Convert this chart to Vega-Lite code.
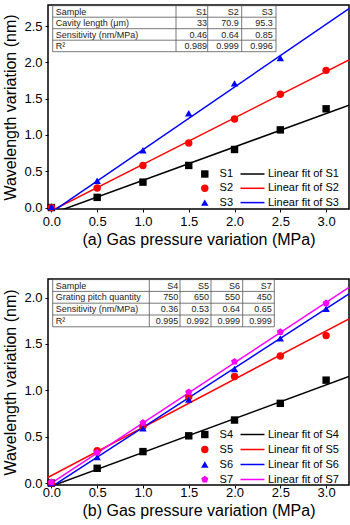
{
  "$schema": "https://vega.github.io/schema/vega-lite/v6.json",
  "padding": {"left": 2, "top": 4, "right": 1, "bottom": 0},
  "spacing": 30,
  "config": {
    "font": "Liberation Sans",
    "view": {"stroke": "black", "strokeWidth": 1.5},
    "axis": {"domain": false, "grid": false, "tickColor": "black", "tickSize": 3, "tickWidth": 1,
      "labelFontSize": 13, "labelColor": "black", "labelFont": "Liberation Sans", "labelPadding": 3,
      "titleFontSize": 16, "titleFontWeight": "normal", "titleColor": "black", "titleFont": "Liberation Sans"},
    "legend": {"labelFont": "Liberation Sans", "labelFontSize": 11, "labelColor": "black", "padding": 0}
  },
  "resolve": {"scale": {"color": "independent", "shape": "independent", "stroke": "independent"}},
  "datasets": {
    "a_pts": [
      {"sample": "S1", "x": 0, "y": 0}, {"sample": "S1", "x": 0.5, "y": 0.14}, {"sample": "S1", "x": 1.0, "y": 0.35},
      {"sample": "S1", "x": 1.5, "y": 0.58}, {"sample": "S1", "x": 2.0, "y": 0.80}, {"sample": "S1", "x": 2.5, "y": 1.07},
      {"sample": "S1", "x": 3.0, "y": 1.36},
      {"sample": "S2", "x": 0, "y": 0}, {"sample": "S2", "x": 0.5, "y": 0.27}, {"sample": "S2", "x": 1.0, "y": 0.58},
      {"sample": "S2", "x": 1.5, "y": 0.89}, {"sample": "S2", "x": 2.0, "y": 1.22}, {"sample": "S2", "x": 2.5, "y": 1.56},
      {"sample": "S2", "x": 3.0, "y": 1.89},
      {"sample": "S3", "x": 0, "y": 0.01}, {"sample": "S3", "x": 0.5, "y": 0.37}, {"sample": "S3", "x": 1.0, "y": 0.79},
      {"sample": "S3", "x": 1.5, "y": 1.30}, {"sample": "S3", "x": 2.0, "y": 1.71}, {"sample": "S3", "x": 2.5, "y": 2.06}
    ],
    "a_fit": [
      {"fit": "Linear fit of S1", "x": 0, "y": -0.085}, {"fit": "Linear fit of S1", "x": 3.25, "y": 1.41},
      {"fit": "Linear fit of S2", "x": 0, "y": -0.045}, {"fit": "Linear fit of S2", "x": 3.25, "y": 2.035},
      {"fit": "Linear fit of S3", "x": 0, "y": -0.066}, {"fit": "Linear fit of S3", "x": 3.25, "y": 2.74}
    ],
    "a_tab": [
      {"r": 0, "c": 0, "t": "Sample"}, {"r": 0, "c": 1, "t": "S1"}, {"r": 0, "c": 2, "t": "S2"}, {"r": 0, "c": 3, "t": "S3"},
      {"r": 1, "c": 0, "t": "Cavity length (μm)"}, {"r": 1, "c": 1, "t": "33"}, {"r": 1, "c": 2, "t": "70.9"}, {"r": 1, "c": 3, "t": "95.3"},
      {"r": 2, "c": 0, "t": "Sensitivity (nm/MPa)"}, {"r": 2, "c": 1, "t": "0.46"}, {"r": 2, "c": 2, "t": "0.64"}, {"r": 2, "c": 3, "t": "0.85"},
      {"r": 3, "c": 0, "t": "R²"}, {"r": 3, "c": 1, "t": "0.989"}, {"r": 3, "c": 2, "t": "0.999"}, {"r": 3, "c": 3, "t": "0.996"}
    ],
    "b_pts": [
      {"sample": "S4", "x": 0, "y": 0}, {"sample": "S4", "x": 0.5, "y": 0.16}, {"sample": "S4", "x": 1.0, "y": 0.34},
      {"sample": "S4", "x": 1.5, "y": 0.51}, {"sample": "S4", "x": 2.0, "y": 0.68}, {"sample": "S4", "x": 2.5, "y": 0.86},
      {"sample": "S4", "x": 3.0, "y": 1.11},
      {"sample": "S5", "x": 0, "y": 0}, {"sample": "S5", "x": 0.5, "y": 0.35}, {"sample": "S5", "x": 1.0, "y": 0.61},
      {"sample": "S5", "x": 1.5, "y": 0.93}, {"sample": "S5", "x": 2.0, "y": 1.15}, {"sample": "S5", "x": 2.5, "y": 1.37},
      {"sample": "S5", "x": 3.0, "y": 1.59},
      {"sample": "S6", "x": 0, "y": 0}, {"sample": "S6", "x": 0.5, "y": 0.28}, {"sample": "S6", "x": 1.0, "y": 0.59},
      {"sample": "S6", "x": 1.5, "y": 0.90}, {"sample": "S6", "x": 2.0, "y": 1.23}, {"sample": "S6", "x": 2.5, "y": 1.56},
      {"sample": "S6", "x": 3.0, "y": 1.88},
      {"sample": "S7", "x": 0, "y": 0.01}, {"sample": "S7", "x": 0.5, "y": 0.33}, {"sample": "S7", "x": 1.0, "y": 0.65},
      {"sample": "S7", "x": 1.5, "y": 0.98}, {"sample": "S7", "x": 2.0, "y": 1.31}, {"sample": "S7", "x": 2.5, "y": 1.63},
      {"sample": "S7", "x": 3.0, "y": 1.94}
    ],
    "b_fit": [
      {"fit": "Linear fit of S4", "x": 0, "y": -0.033}, {"fit": "Linear fit of S4", "x": 3.25, "y": 1.15},
      {"fit": "Linear fit of S5", "x": -0.04, "y": 0.06}, {"fit": "Linear fit of S5", "x": 3.25, "y": 1.77},
      {"fit": "Linear fit of S6", "x": 0, "y": -0.04}, {"fit": "Linear fit of S6", "x": 3.25, "y": 2.04},
      {"fit": "Linear fit of S7", "x": 0, "y": 0}, {"fit": "Linear fit of S7", "x": 3.25, "y": 2.11}
    ],
    "b_tab": [
      {"r": 0, "c": 0, "t": "Sample"}, {"r": 0, "c": 1, "t": "S4"}, {"r": 0, "c": 2, "t": "S5"}, {"r": 0, "c": 3, "t": "S6"}, {"r": 0, "c": 4, "t": "S7"},
      {"r": 1, "c": 0, "t": "Grating pitch quantity"}, {"r": 1, "c": 1, "t": "750"}, {"r": 1, "c": 2, "t": "650"}, {"r": 1, "c": 3, "t": "550"}, {"r": 1, "c": 4, "t": "450"},
      {"r": 2, "c": 0, "t": "Sensitivity (nm/MPa)"}, {"r": 2, "c": 1, "t": "0.36"}, {"r": 2, "c": 2, "t": "0.53"}, {"r": 2, "c": 3, "t": "0.64"}, {"r": 2, "c": 4, "t": "0.65"},
      {"r": 3, "c": 0, "t": "R²"}, {"r": 3, "c": 1, "t": "0.995"}, {"r": 3, "c": 2, "t": "0.992"}, {"r": 3, "c": 3, "t": "0.999"}, {"r": 3, "c": 4, "t": "0.999"}
    ],
    "edges": [{"e": 0}, {"e": 1}, {"e": 2}, {"e": 3}, {"e": 4}, {"e": 5}]
  },
  "vconcat": [
    {
      "width": 301, "height": 204,
      "layer": [
        {
          "layer": [
            {
              "data": {"name": "a_fit"},
              "mark": {"type": "line", "clip": true, "strokeWidth": 1.5},
              "encoding": {
                "x": {"field": "x", "type": "quantitative",
                  "scale": {"domain": [-0.037, 3.25], "nice": false, "zero": false},
                  "axis": {"values": [0, 0.25, 0.5, 0.75, 1, 1.25, 1.5, 1.75, 2, 2.25, 2.5, 2.75, 3],
                    "labelExpr": "datum.value % 0.5 === 0 ? format(datum.value, '.1f') : ''",
                    "title": "(a) Gas pressure variation (MPa)", "titlePadding": 3}},
                "y": {"field": "y", "type": "quantitative",
                  "scale": {"domain": [-0.02, 2.79], "nice": false, "zero": false},
                  "axis": {"values": [0, 0.25, 0.5, 0.75, 1, 1.25, 1.5, 1.75, 2, 2.25, 2.5, 2.75],
                    "labelExpr": "datum.value % 0.5 === 0 ? format(datum.value, '.1f') : ''",
                    "title": "Wavelength variation (nm)", "titlePadding": 5}},
                "stroke": {"field": "fit", "type": "nominal",
                  "scale": {"domain": ["Linear fit of S1", "Linear fit of S2", "Linear fit of S3"], "range": ["#000000", "#ff0000", "#0000ff"]},
                  "legend": {"orient": "none", "legendX": 199, "legendY": 163.5, "title": null, "symbolType": "M-3,0H3",
                    "symbolSize": 64, "symbolStrokeWidth": 1.5, "labelOffset": 10, "rowPadding": 2.3}}
              }
            },
            {
              "data": {"name": "a_pts"},
              "mark": {"type": "point", "filled": true, "opacity": 1, "size": 55},
              "encoding": {
                "x": {"field": "x", "type": "quantitative"},
                "y": {"field": "y", "type": "quantitative"},
                "color": {"field": "sample", "type": "nominal",
                  "scale": {"domain": ["S1", "S2", "S3"], "range": ["#000000", "#ff0000", "#0000ff"]},
                  "legend": {"orient": "none", "legendX": 151.3, "legendY": 163.5, "title": null, "symbolSize": 55, "labelOffset": 9.3, "rowPadding": 2.3}},
                "shape": {"field": "sample", "type": "nominal",
                  "scale": {"domain": ["S1", "S2", "S3"], "range": ["square", "circle", "triangle-up"]}}
              }
            }
          ]
        },
        {
          "layer": [
            {
              "data": {"name": "edges"},
              "transform": [{"filter": "datum.e <= 4"}],
              "mark": {"type": "rule", "color": "#555555", "strokeWidth": 0.8},
              "encoding": {
                "x": {"field": "e", "type": "quantitative", "axis": null,
                  "scale": {"domain": [0, 1, 2, 3, 4], "range": [4.7, 128, 159.7, 193.7, 228], "nice": false, "zero": false}},
                "y": {"datum": 0, "type": "quantitative", "axis": null,
                  "scale": {"domain": [0, 1, 2, 3, 4], "range": [0.7, 12.2, 23.7, 35.2, 46.7], "nice": false, "zero": false}},
                "y2": {"datum": 4}
              }
            },
            {
              "data": {"name": "edges"},
              "transform": [{"filter": "datum.e <= 4"}],
              "mark": {"type": "rule", "color": "#555555", "strokeWidth": 0.8},
              "encoding": {
                "y": {"field": "e", "type": "quantitative"},
                "x": {"datum": 0, "type": "quantitative"},
                "x2": {"datum": 4}
              }
            },
            {
              "data": {"name": "a_tab"},
              "transform": [{"filter": "datum.c == 0"}],
              "mark": {"type": "text", "align": "left", "baseline": "middle", "dx": 3, "dy": 6, "fontSize": 9, "color": "#222222"},
              "encoding": {
                "x": {"field": "c", "type": "quantitative"},
                "y": {"field": "r", "type": "quantitative"},
                "text": {"field": "t"}
              }
            },
            {
              "data": {"name": "a_tab"},
              "transform": [{"filter": "datum.c > 0"}],
              "mark": {"type": "text", "align": "right", "baseline": "middle", "dx": 31, "dy": 6, "fontSize": 9, "color": "#222222"},
              "encoding": {
                "x": {"field": "c", "type": "quantitative"},
                "y": {"field": "r", "type": "quantitative"},
                "text": {"field": "t"}
              }
            }
          ]
        }
      ],
      "resolve": {"scale": {"x": "independent", "y": "independent"}}
    },
    {
      "width": 301, "height": 206,
      "layer": [
        {
          "layer": [
            {
              "data": {"name": "b_fit"},
              "mark": {"type": "line", "clip": true, "strokeWidth": 1.5},
              "encoding": {
                "x": {"field": "x", "type": "quantitative",
                  "scale": {"domain": [-0.037, 3.25], "nice": false, "zero": false},
                  "axis": {"values": [0, 0.25, 0.5, 0.75, 1, 1.25, 1.5, 1.75, 2, 2.25, 2.5, 2.75, 3],
                    "labelExpr": "datum.value % 0.5 === 0 ? format(datum.value, '.1f') : ''",
                    "title": "(b) Gas pressure variation (MPa)", "titlePadding": 3, "labelPadding": -1.5}},
                "y": {"field": "y", "type": "quantitative",
                  "scale": {"domain": [-0.02, 2.2], "nice": false, "zero": false},
                  "axis": {"values": [0, 0.25, 0.5, 0.75, 1, 1.25, 1.5, 1.75, 2],
                    "labelExpr": "datum.value % 0.5 === 0 ? format(datum.value, '.1f') : ''",
                    "title": "Wavelength variation (nm)", "titlePadding": 5}},
                "stroke": {"field": "fit", "type": "nominal",
                  "scale": {"domain": ["Linear fit of S4", "Linear fit of S5", "Linear fit of S6", "Linear fit of S7"], "range": ["#000000", "#ff0000", "#0000ff", "#ff00ff"]},
                  "legend": {"orient": "none", "legendX": 199, "legendY": 150, "title": null, "symbolType": "M-3,0H3",
                    "symbolSize": 64, "symbolStrokeWidth": 1.5, "labelOffset": 10, "rowPadding": 3}}
              }
            },
            {
              "data": {"name": "b_pts"},
              "mark": {"type": "point", "filled": true, "opacity": 1, "size": 55},
              "encoding": {
                "x": {"field": "x", "type": "quantitative"},
                "y": {"field": "y", "type": "quantitative"},
                "color": {"field": "sample", "type": "nominal",
                  "scale": {"domain": ["S4", "S5", "S6", "S7"], "range": ["#000000", "#ff0000", "#0000ff", "#ff00ff"]},
                  "legend": {"orient": "none", "legendX": 151.3, "legendY": 150, "title": null, "symbolSize": 55, "labelOffset": 9.3, "rowPadding": 3}},
                "shape": {"field": "sample", "type": "nominal",
                  "scale": {"domain": ["S4", "S5", "S6", "S7"], "range": ["square", "circle", "triangle-up", "M0,-1L0.951,-0.309L0.588,0.809L-0.588,0.809L-0.951,-0.309Z"]}}
              }
            }
          ]
        },
        {
          "layer": [
            {
              "data": {"name": "edges"},
              "mark": {"type": "rule", "color": "#555555", "strokeWidth": 0.8},
              "encoding": {
                "x": {"field": "e", "type": "quantitative", "axis": null,
                  "scale": {"domain": [0, 1, 2, 3, 4, 5], "range": [4.7, 101.3, 132, 163, 194.7, 226.3], "nice": false, "zero": false}},
                "y": {"datum": 0, "type": "quantitative", "axis": null,
                  "scale": {"domain": [0, 1, 2, 3, 4], "range": [0.6, 12.4, 24.2, 36, 47.8], "nice": false, "zero": false}},
                "y2": {"datum": 4}
              }
            },
            {
              "data": {"name": "edges"},
              "transform": [{"filter": "datum.e <= 4"}],
              "mark": {"type": "rule", "color": "#555555", "strokeWidth": 0.8},
              "encoding": {
                "y": {"field": "e", "type": "quantitative"},
                "x": {"datum": 0, "type": "quantitative"},
                "x2": {"datum": 5}
              }
            },
            {
              "data": {"name": "b_tab"},
              "transform": [{"filter": "datum.c == 0"}],
              "mark": {"type": "text", "align": "left", "baseline": "middle", "dx": 3, "dy": 6, "fontSize": 9, "color": "#222222"},
              "encoding": {
                "x": {"field": "c", "type": "quantitative"},
                "y": {"field": "r", "type": "quantitative"},
                "text": {"field": "t"}
              }
            },
            {
              "data": {"name": "b_tab"},
              "transform": [{"filter": "datum.c > 0"}],
              "mark": {"type": "text", "align": "right", "baseline": "middle", "dx": 29, "dy": 6, "fontSize": 9, "color": "#222222"},
              "encoding": {
                "x": {"field": "c", "type": "quantitative"},
                "y": {"field": "r", "type": "quantitative"},
                "text": {"field": "t"}
              }
            }
          ]
        }
      ],
      "resolve": {"scale": {"x": "independent", "y": "independent"}}
    }
  ]
}
